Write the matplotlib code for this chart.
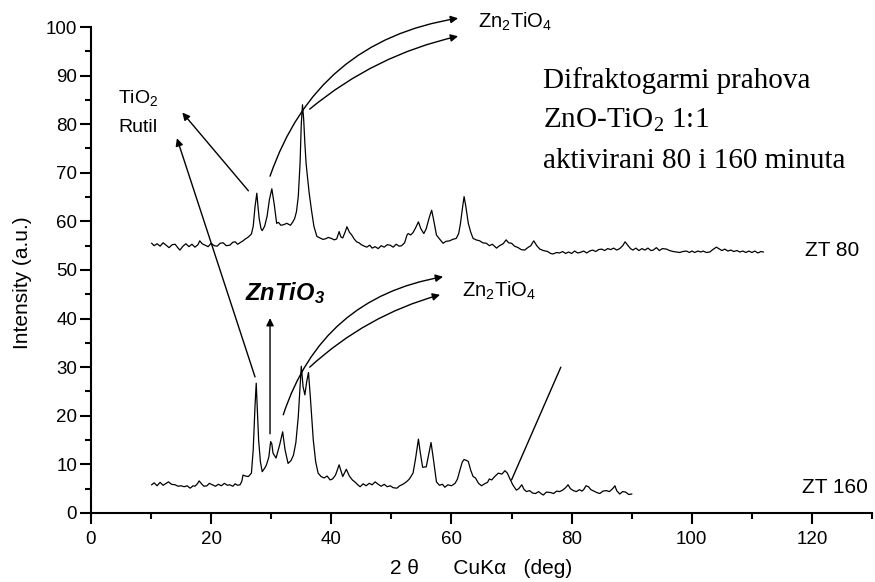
import matplotlib
matplotlib.use("Agg")
import matplotlib.pyplot as plt
from matplotlib.ticker import MultipleLocator

plt.rcParams['font.family'] = ['Liberation Sans', 'DejaVu Sans']
plt.rcParams['mathtext.default'] = 'regular'

# === data ===
# ZT 80 pattern (upper trace)
x80 = [10.1, 10.5, 11, 11.5, 12, 12.5, 13, 13.5, 14, 14.5, 14.8, 15.3, 15.8, 16.3,
       16.8, 17.3, 17.8, 18.1, 18.5, 19, 19.5, 20, 20.5, 21, 21.5, 22, 22.5, 23.1,
       23.6, 24, 24.4, 24.8, 25.3, 25.6, 26.2, 26.7, 27.0, 27.3, 27.6, 27.8, 28.0,
       28.3, 28.5, 28.9, 29.3, 29.7, 30.1, 30.5, 30.9, 31.2, 31.6, 32, 32.6, 33.2,
       33.6, 33.9, 34.2, 34.5, 34.8, 35.0, 35.2, 35.4, 35.6, 35.8, 36.0, 36.3,
       36.7, 37.1, 37.6, 38.1, 38.6, 39, 39.5, 40, 40.5, 40.9, 41.3, 41.6, 41.9,
       42.3, 42.6, 43.0, 43.4, 43.8, 44.2, 44.6, 45.0, 45.5, 45.9, 46.4, 46.8,
       47.3, 47.8, 48.3, 48.8, 49.3, 49.8, 50.3, 50.8, 51.3, 51.7, 52.2, 52.6,
       52.8, 53.2, 53.6, 54.0, 54.5, 54.9, 55.4, 55.8, 56.3, 56.7, 57.0, 57.5,
       58.0, 58.6, 59.1, 59.7, 60.2, 60.8, 61.2, 61.5, 61.8, 62.1, 62.4, 62.8,
       63.2, 63.6, 64.1, 64.7, 65.2, 65.8, 66.3, 66.8, 67.5, 68.0, 68.6, 69.1,
       69.5, 70.0, 70.5, 71.1, 71.6, 72.2, 72.7, 73.2, 73.7, 74.2, 74.7, 75.3,
       76.0, 76.5, 76.9, 77.5, 78, 78.5, 79, 79.5, 80, 80.5, 81, 81.4, 82, 82.5,
       83, 83.5, 84, 84.5, 85, 85.5, 86, 86.5, 87, 87.5, 88, 88.5, 88.9, 89.4,
       89.8, 90.2, 90.7, 91.2, 91.7, 92.2, 92.7, 93.2, 93.6, 94.1, 94.6, 95.1,
       95.8, 96.3, 96.9, 97.4, 98, 98.5, 99.1, 99.6, 100, 100.5, 101, 101.5, 101.9,
       102.4, 103, 103.5, 104.1, 104.6, 105, 105.5, 106, 106.5, 107, 107.5, 108,
       108.5, 109, 109.5, 110, 110.5, 111, 111.5, 111.9]
y80 = [55.5, 55.0, 55.4, 54.9, 55.6, 55.1, 54.6, 55.2, 55.3, 54.5, 54.1, 54.9, 55.4,
       54.8, 55.3, 54.7, 55.2, 56.0, 55.4, 55.1, 54.8, 55.5, 55.0, 54.9, 55.5, 55.6,
       55.0, 55.1, 55.7, 55.8, 55.3, 55.6, 56.0, 56.3, 56.8, 57.4, 59.0, 63.0, 65.8,
       63.0, 60.5, 58.5, 58.1, 59.0, 61.0, 64.5, 66.7, 63.5, 59.6, 59.8, 59.2, 59.3,
       59.6, 59.2, 59.9, 60.6, 62.0, 65.1, 72.0, 80.0, 84.0, 81.0, 76.0, 72.0, 69.5,
       66.0, 62.3, 59.0, 56.9, 56.6, 56.3, 56.4, 56.7, 56.5, 56.2, 56.4, 57.9, 56.8,
       56.6, 57.8, 58.9, 57.8, 57.2, 56.4, 55.8, 55.6, 55.2, 54.9, 54.7, 55.1, 54.5,
       54.8, 54.4, 55.0, 54.7, 55.2, 55.1, 54.7, 55.3, 54.9, 55.0, 55.6, 57.2, 57.5,
       57.2, 57.7, 58.6, 59.9, 58.5, 57.5, 58.5, 60.8, 62.3, 60.5, 57.2, 56.4, 55.5,
       55.9, 56.0, 56.3, 56.5, 57.5, 59.6, 62.5, 65.1, 63.0, 59.6, 57.8, 56.5, 56.2,
       56.0, 55.6, 55.5, 55.0, 55.3, 54.5, 55.0, 55.4, 56.2, 55.6, 55.5, 54.9, 54.6,
       54.2, 54.1, 54.6, 55.0, 56.0, 55.0, 54.3, 54.0, 53.8, 53.4, 53.3, 53.6, 53.5,
       53.8, 53.4, 53.7, 53.4, 53.9, 53.5, 53.6, 53.9, 53.5, 53.9, 54.1, 53.8, 54.2,
       54.3, 54.0, 54.4, 54.2, 54.5, 54.1, 54.4, 55.0, 55.8, 55.0, 54.4, 54.1, 54.5,
       54.0, 54.4, 54.1, 54.5, 54.0, 54.1, 54.6, 54.0, 54.4, 54.3, 54.0, 53.8, 53.7,
       53.6, 53.8, 53.9, 53.6, 53.9, 53.6, 53.9, 53.7, 53.9, 53.6, 53.7, 54.2, 54.7,
       54.3, 54.0, 54.3, 53.9, 54.1, 53.8, 54.0, 53.7, 53.9, 53.6, 53.9, 53.6, 53.9,
       53.5, 53.8, 53.7]

# ZT 160 pattern (lower trace)
x160 = [10.1, 10.5, 11, 11.5, 12, 12.5, 12.9, 13.4, 14, 14.5, 15, 15.5, 16, 16.5, 17,
        17.3, 17.7, 18.0, 18.4, 18.8, 19.3, 19.7, 20.2, 20.7, 21.2, 21.7, 22.2,
        22.7, 23.1, 23.6, 24, 24.4, 24.8, 25.1, 25.3, 25.7, 26.2, 26.7, 27.0, 27.3,
        27.5, 27.7, 27.9, 28.2, 28.5, 28.9, 29.2, 29.6, 29.9, 30.1, 30.3, 30.8,
        31.4, 31.9, 32.3, 32.8, 33.3, 33.7, 34.1, 34.5, 34.8, 35.0, 35.3, 35.6,
        35.9, 36.2, 36.5, 36.8, 37.0, 37.4, 37.8, 38.3, 38.8, 39.3, 39.8, 40.2,
        40.7, 41.3, 41.9, 42.5, 43.0, 43.5, 44.0, 44.4, 44.8, 45.3, 45.8, 46.3,
        46.8, 47.3, 47.8, 48.3, 48.8, 49.3, 49.8, 50.3, 50.9, 51.4, 51.9, 52.5,
        53.0, 53.6, 54.0, 54.5, 54.8, 55.2, 55.8, 56.2, 56.6, 57.0, 57.5, 58.0,
        58.5, 58.9, 59.4, 60.0, 60.6, 61.0, 61.4, 61.8, 62.1, 62.5, 62.8, 63.2,
        63.6, 64.0, 64.5, 65.0, 65.5, 66.0, 66.3, 66.7, 67.2, 67.8, 68.4, 68.9,
        69.3, 69.7, 70.2, 70.8, 71.2, 71.7, 72.1, 72.5, 73.0, 73.5, 74, 74.5, 75.0,
        75.3, 75.8, 76.5, 77.0, 77.5, 78.0, 78.5, 79.0, 79.4, 79.8, 80.3, 80.8,
        81.3, 81.7, 82.0, 82.4, 82.8, 83.2, 83.7, 84.2, 84.7, 85.2, 85.8, 86.3,
        86.9, 87.2, 87.5, 88.0, 88.5, 89, 89.5, 90.0]
y160 = [5.8, 6.2, 5.6, 6.3, 5.7, 6.1, 6.4, 5.9, 5.8, 5.5, 5.6, 5.4, 5.6, 5.1, 5.6,
        5.5, 6.0, 6.6, 6.0, 5.5, 5.6, 6.1, 5.8, 5.5, 5.9, 5.6, 6.1, 5.7, 5.8, 5.5,
        6.0, 5.7, 5.8, 6.5, 7.8, 7.6, 7.5, 8.2, 13.0, 22.0, 26.7, 21.0, 15.0, 10.5,
        8.5, 9.2, 9.9, 11.5, 14.7, 14.2, 12.3, 11.3, 14.0, 16.7, 13.0, 10.2, 10.8,
        11.9, 14.5, 19.8, 26.0, 30.2, 26.0, 24.3, 27.0, 28.9, 24.0, 18.5, 15.0,
        10.5, 8.2, 7.5, 7.2, 7.6, 6.8, 7.0, 7.8, 9.9, 7.5, 9.0, 7.6, 6.8, 6.3, 5.8,
        5.4, 6.0, 5.6, 6.1, 5.8, 6.4, 5.9, 5.5, 5.9, 5.4, 5.6, 5.2, 5.1, 5.6, 5.9,
        6.4, 7.0, 8.2, 11.0, 15.2, 12.5, 9.4, 9.5, 12.0, 14.5, 11.0, 6.4, 5.7, 5.9,
        5.3, 5.8, 5.6, 6.1, 7.0, 8.8, 10.5, 11.0, 10.8, 10.6, 8.8, 7.5, 7.2, 6.1,
        5.6, 6.0, 6.3, 7.0, 6.8, 7.5, 8.2, 8.0, 8.7, 8.2, 7.1, 5.8, 4.7, 5.0, 5.8,
        4.8, 4.4, 4.6, 4.1, 4.0, 4.4, 3.9, 3.7, 4.3, 4.2, 4.0, 4.5, 4.4, 4.7, 5.2,
        5.8, 5.0, 4.6, 4.4, 4.8, 4.5, 4.8, 5.6, 5.4, 4.8, 4.5, 4.2, 4.0, 4.5, 4.6,
        4.4, 5.1, 5.6, 4.6, 3.9, 4.4, 4.3, 3.8, 3.9]

# === figure ===
fig = plt.figure(figsize=(8.75, 5.82), dpi=100)
ax = fig.add_axes([0.104, 0.1186, 0.8926, 0.835])

ax.plot(x80, y80, color='black', lw=0.9)
ax.plot(x160, y160, color='black', lw=0.9)

ax.set_xlim(0, 130)
ax.set_ylim(0, 100)
ax.xaxis.set_major_locator(MultipleLocator(20))
ax.xaxis.set_minor_locator(MultipleLocator(10))
ax.yaxis.set_major_locator(MultipleLocator(10))
ax.yaxis.set_minor_locator(MultipleLocator(5))
for s in ['top', 'right']:
    ax.spines[s].set_visible(False)
for s in ['left', 'bottom']:
    ax.spines[s].set_linewidth(1.5)
ax.tick_params(which='major', length=8, width=1.5, labelsize=13.5)
ax.tick_params(which='minor', length=4.5, width=1.5)
ax.tick_params(axis='y', pad=2)
ax.tick_params(axis='x', pad=5)

ax.set_ylabel("Intensity (a.u.)", fontsize=15)
ax.yaxis.set_label_coords(-0.075, 0.473)
ax.set_xlabel("2 θ      CuKα   (deg)", fontsize=15, labelpad=8)

# === annotations ===
arrow = dict(arrowstyle='-|>', color='black', lw=1, mutation_scale=11,
             shrinkA=0, shrinkB=0)
line = dict(arrowstyle='-', color='black', lw=1, shrinkA=0, shrinkB=0)

ax.text(4.5, 85.4, "TiO$_2$", fontsize=14, va='center')
ax.text(4.5, 79.4, "Rutil", fontsize=14, va='center')
ax.annotate("", xy=(15.2, 82.4), xytext=(26.2, 66.3), arrowprops=arrow)
ax.annotate("", xy=(14.3, 77.1), xytext=(27.3, 28.0), arrowprops=arrow)

ax.text(25.6, 43.8, "ZnTiO$_3$", fontsize=17, fontweight='bold', style='italic',
        va='baseline')
ax.annotate("", xy=(29.8, 40.1), xytext=(29.8, 16.3), arrowprops=arrow)

# Zn2TiO4, upper trace
ax.text(64.4, 99.8, "Zn$_2$TiO$_4$", fontsize=14.5, va='baseline', clip_on=False)
ax.annotate("", xy=(61.1, 101.8), xytext=(29.8, 69.3), annotation_clip=False,
            arrowprops=dict(arrow, connectionstyle='arc3,rad=-0.3'))
ax.annotate("", xy=(61.1, 98.1), xytext=(36.4, 83.1), annotation_clip=False,
            arrowprops=dict(arrow, connectionstyle='arc3,rad=-0.12'))

# Zn2TiO4, lower trace
ax.text(61.7, 44.5, "Zn$_2$TiO$_4$", fontsize=14.5, va='baseline')
ax.annotate("", xy=(58.6, 48.6), xytext=(32.0, 20.2),
            arrowprops=dict(arrow, connectionstyle='arc3,rad=-0.3'))
ax.annotate("", xy=(58.1, 44.9), xytext=(36.4, 30.0),
            arrowprops=dict(arrow, connectionstyle='arc3,rad=-0.12'))

ax.annotate("", xy=(78.2, 30.0), xytext=(70.0, 6.8), arrowprops=line)

# title block
serif = ['Liberation Serif', 'DejaVu Serif']
ax.text(75.2, 87.4, "Difraktogarmi prahova", fontsize=21, family=serif, va='baseline')
ax.text(75.2, 79.2, "ZnO-TiO$_2$ 1:1", fontsize=21, family=serif, va='baseline')
ax.text(75.2, 71.0, "aktivirani 80 i 160 minuta", fontsize=21, family=serif,
        va='baseline')

ax.text(118.8, 54.1, "ZT 80", fontsize=15, va='center')
ax.text(118.3, 5.3, "ZT 160", fontsize=15, va='center')

fig.savefig("out.png", dpi=100)
